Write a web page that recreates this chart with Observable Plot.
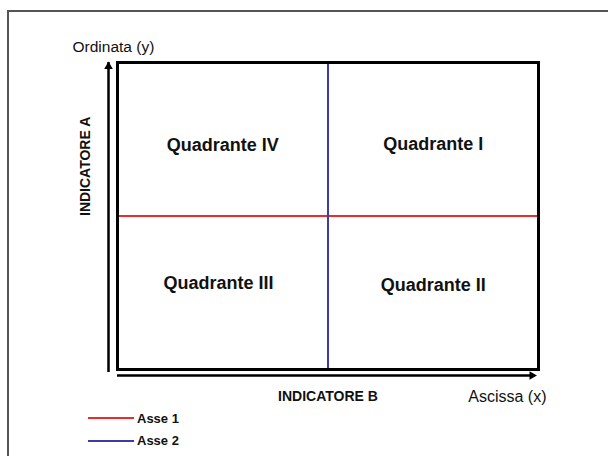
<!DOCTYPE html>
<html>
<head>
<meta charset="utf-8">
<script src="https://cdn.jsdelivr.net/npm/d3@7"></script>
<script src="https://cdn.jsdelivr.net/npm/@observablehq/plot@0.6"></script>
<style>
  html, body { margin: 0; padding: 0; background: #fff; }
  #wrap { position: relative; width: 608px; height: 456px; overflow: hidden; font-family: "Liberation Sans", Arial, sans-serif; }
  #border { position: absolute; left: 7px; top: 10px; right: -10px; bottom: -10px; border-left: 2px solid #555; border-top: 2px solid #555; }
  #chart { position: absolute; left: 0; top: 0; }
  #legend { position: absolute; left: 88px; top: 407px; font-size: 13px; font-weight: bold; color: #111; }
  .row { display: flex; align-items: center; height: 22.5px; }
  .sw { width: 46px; height: 2px; margin-right: 3px; }
</style>
</head>
<body>
<div id="wrap">
  <div id="border"></div>
  <div id="chart"></div>
  <div id="legend"></div>
</div>
<script>
// Quadrant labels and their positions (data units: x and y in [0, 2])
const quadrantLabels = ["Quadrante IV", "Quadrante I", "Quadrante III", "Quadrante II"];
const quadrantX = [0.5, 1.5, 0.48, 1.5];
const quadrantY = [1.46, 1.47, 0.56, 0.55];
// Dividing axes
const axisNames = ["Asse 1", "Asse 2"];
const axisColors = ["#ee2a2a", "#3c3ca6"];
const asse1Y = [1];   // horizontal (red)
const asse2X = [1];   // vertical (blue)
// Axis titles
const xTitle = "INDICATORE B";
const yTitle = "INDICATORE A";
const xName = "Ascissa (x)";
const yName = "Ordinata (y)";

const quadrants = quadrantLabels.map((label, i) => ({label, x: quadrantX[i], y: quadrantY[i]}));

const font = "Liberation Sans, Arial, sans-serif";

const plot = Plot.plot({
  width: 608,
  height: 420,
  marginLeft: 117,
  marginRight: 70,
  marginTop: 62,
  marginBottom: 51,
  style: {fontFamily: font, background: "transparent"},
  x: {domain: [0, 2], axis: null},
  y: {domain: [0, 2], axis: null},
  marks: [
    Plot.ruleY(asse1Y, {stroke: axisColors[0], strokeWidth: 2}),
    Plot.ruleX(asse2X, {stroke: axisColors[1], strokeWidth: 2}),
    Plot.frame({stroke: "#000", strokeWidth: 3}),
    // y axis arrow
    Plot.ruleX([0], {y1: 0, y2: 2, dx: -9, stroke: "#000", strokeWidth: 2.5, insetTop: 3}),
    Plot.dot([0], {x: 0, y: 2, dx: -9, dy: 4, symbol: "triangle", r: 3.2, fill: "#000", stroke: "none"}),
    // x axis arrow
    Plot.ruleY([0], {x1: 0, x2: 2, dy: 6, stroke: "#000", strokeWidth: 2.5, insetRight: 6}),
    Plot.dot([0], {x: 2, y: 0, dx: -6.5, dy: 6, rotate: 90, symbol: "triangle", r: 3.2, fill: "#000", stroke: "none"}),
    // quadrant labels
    Plot.text(quadrants, {x: "x", y: "y", text: "label", fontSize: 18, fontWeight: "bold", fill: "#111"}),
    // axis titles
    Plot.text([xTitle], {x: 1, frameAnchor: "bottom", dy: 31, fontSize: 14, fontWeight: "bold", fill: "#111"}),
    Plot.text([yTitle], {y: 1, frameAnchor: "left", dx: -32, rotate: -90, fontSize: 14, fontWeight: "bold", fill: "#111"}),
    Plot.text([xName], {frameAnchor: "bottom-right", dx: 8, dy: 32, textAnchor: "end", fontSize: 16, fill: "#111"}),
    Plot.text([yName], {frameAnchor: "top-left", dx: -45, dy: -22, textAnchor: "start", fontSize: 15.5, fill: "#111"})
  ]
});
document.getElementById("chart").appendChild(plot);

const legend = document.getElementById("legend");
axisNames.forEach((name, i) => {
  const row = document.createElement("div");
  row.className = "row";
  const sw = document.createElement("div");
  sw.className = "sw";
  sw.style.background = axisColors[i];
  const t = document.createElement("span");
  t.textContent = name;
  row.appendChild(sw);
  row.appendChild(t);
  legend.appendChild(row);
});
</script>
</body>
</html>
